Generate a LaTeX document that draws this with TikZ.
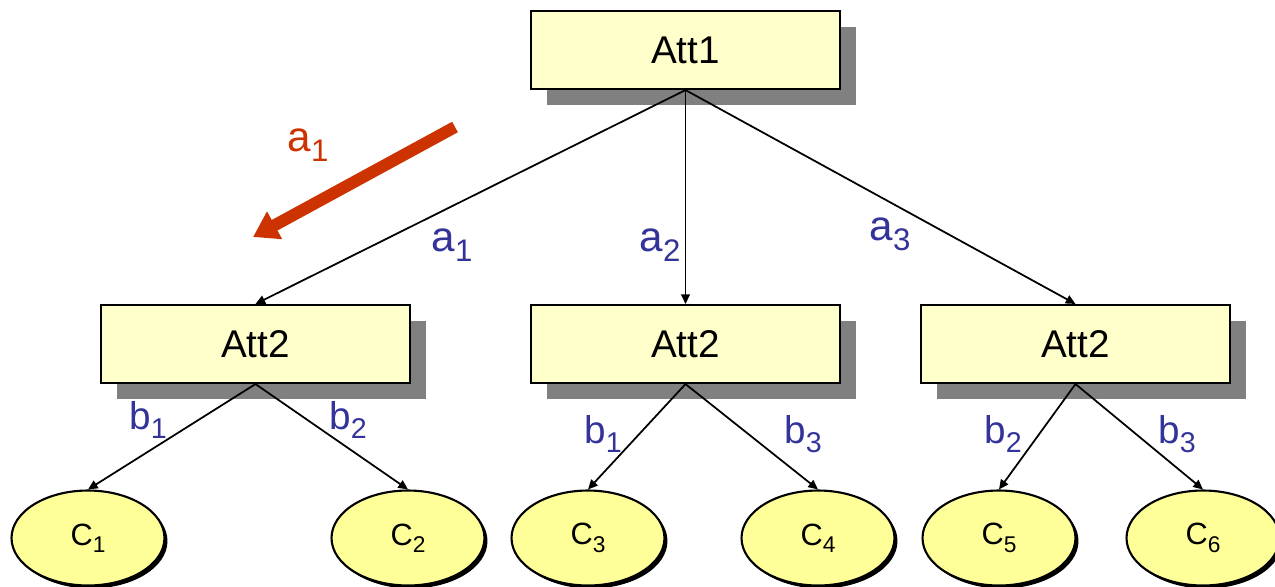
\documentclass[tikz,border=0pt]{standalone}
\usepackage{fontspec}
\setmainfont{Liberation Sans}
\usetikzlibrary{shapes.geometric,shadows,arrows.meta}

\definecolor{boxfill}{HTML}{FFFFCC}
\definecolor{leaffill}{HTML}{FFFF99}
\definecolor{valblue}{HTML}{333399}
\definecolor{pathred}{HTML}{CC3300}

% lowered index digit
\newcommand{\lowidx}[1]{\raisebox{-0.24em}{\scalebox{0.74}{#1}}}

\tikzset{
  attbox/.style={draw,line width=1.2pt,fill=boxfill,minimum width=6.18cm,minimum height=1.56cm,
    font=\fontsize{22}{26}\selectfont,
    drop shadow={shadow xshift=0.32cm,shadow yshift=-0.32cm,fill=black!50,opacity=1}},
  leaf/.style={ellipse,draw,line width=1.2pt,fill=leaffill,minimum width=3.06cm,minimum height=1.9cm,
    font=\fontsize{17.5}{20}\selectfont,
    drop shadow={shadow xshift=0.06cm,shadow yshift=-0.06cm,fill=black,opacity=1}},
  aval/.style={text=valblue,font=\fontsize{24}{28}\selectfont},
  bval/.style={text=valblue,font=\fontsize{22}{26}\selectfont},
  edge/.style={-{Triangle[length=5.5pt,width=5pt]},line width=1pt},
}

\begin{document}
\begin{tikzpicture}[x=0.02cm,y=-0.02cm]
\useasboundingbox (0,0) rectangle (1275,586);

\node[attbox] (att1) at (685.5,50) {Att1};
\node[attbox] (att2a) at (255.5,344) {Att2};
\node[attbox] (att2b) at (685.5,344) {Att2};
\node[attbox] (att2c) at (1075.5,344) {Att2};

\node[leaf] (c1) at (88,538) {C\lowidx{1}};
\node[leaf] (c2) at (408,538) {C\lowidx{2}};
\node[leaf] (c3) at (588,538) {C\lowidx{3}};
\node[leaf] (c4) at (818,538) {C\lowidx{4}};
\node[leaf] (c5) at (999,538) {C\lowidx{5}};
\node[leaf] (c6) at (1203,538) {C\lowidx{6}};

\draw[edge] (att1.south) -- (att2a.north);
\draw[edge] (att1.south) -- (att2b.north);
\draw[edge] (att1.south) -- (att2c.north);

\draw[edge] (att2a.south) -- (c1.north);
\draw[edge] (att2a.south) -- (c2.north);
\draw[edge] (att2b.south) -- (c3.north);
\draw[edge] (att2b.south) -- (c4.north);
\draw[edge] (att2c.south) -- (c5.north);
\draw[edge] (att2c.south) -- (c6.north);

% branch values
\node[aval] (va1) at (452,245) {a\lowidx{1}};
\node[aval] (va2) at (660,245) {a\lowidx{2}};
\node[aval] (va3) at (890,234) {a\lowidx{3}};
\node[bval] (vb1) at (148,420) {b\lowidx{1}};
\node[bval] (vb2) at (348,420) {b\lowidx{2}};
\node[bval] (vb1m) at (603,434) {b\lowidx{1}};
\node[bval] (vb3m) at (803,434) {b\lowidx{3}};
\node[bval] (vb2r) at (1003,434) {b\lowidx{2}};
\node[bval] (vb3r) at (1177,434) {b\lowidx{3}};

% followed path
\coordinate (pstart) at (455,127);
\coordinate (pend) at (253,237);
\draw[pathred,line width=6.8pt,-{Triangle[length=14pt,width=17pt]}] (pstart) -- (pend);
\node[aval,text=pathred] (pa1) at (308,145) {a\lowidx{1}};

\end{tikzpicture}
\end{document}
